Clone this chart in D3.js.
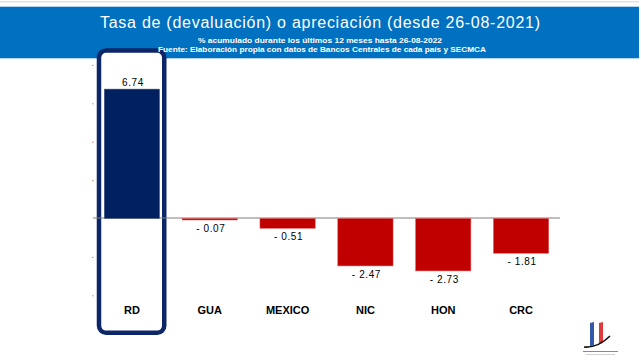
<!DOCTYPE html>
<html>
<head>
<meta charset="utf-8">
<script src="https://cdn.jsdelivr.net/npm/d3@7"></script>
<style>
  html, body { margin: 0; padding: 0; background: #fff; }
  svg { display: block; font-family: "Liberation Sans", Arial, sans-serif; }
</style>
</head>
<body>
<svg id="chart" width="641" height="360"></svg>
<script>
const categories = ["RD", "GUA", "MEXICO", "NIC", "HON", "CRC"];
const values = [6.74, -0.07, -0.51, -2.47, -2.73, -1.81];
const yTicks = [-4, -2, 0, 2, 4, 6, 8];
const highlighted = "RD";
const titleText = "Tasa de (devaluación) o apreciación (desde 26-08-2021)";
const subtitle1 = "% acumulado durante los últimos 12 meses hasta 26-08-2022";
const subtitle2 = "Fuente: Elaboración propia con datos de Bancos Centrales de cada país y SECMCA";

const svg = d3.select("#chart");

// top decorations
svg.append("rect").attr("x", 0).attr("y", 1).attr("width", 639).attr("height", 1.5).attr("fill", "#e2e2e2");
svg.append("rect").attr("x", 0).attr("y", 6.7).attr("width", 639).attr("height", 51.6).attr("fill", "#0070C0");

const x = d3.scaleBand().domain(categories).range([93, 560]).paddingInner(0.29).paddingOuter(0.145);
const y = d3.scaleLinear().domain([-4, 8]).range([295.3, 64.9]);

// highlight rounded rect
const hx0 = x(highlighted) - 5.3, hx1 = x(highlighted) + x.bandwidth() + 4.7;
svg.append("rect")
  .attr("x", hx0).attr("y", 50.5)
  .attr("width", hx1 - hx0).attr("height", 332.8 - 50.5)
  .attr("rx", 7).attr("ry", 7)
  .attr("fill", "#fff")
  .attr("stroke", "#0c2668").attr("stroke-width", 4.5);

// titles
svg.append("text").attr("x", 320).attr("y", 28.3).attr("text-anchor", "middle")
  .attr("fill", "#fff").attr("font-size", 16).attr("textLength", 440).attr("lengthAdjust", "spacing")
  .text(titleText);
svg.append("text").attr("x", 320).attr("y", 42.8).attr("text-anchor", "middle")
  .attr("fill", "#fff").attr("font-size", 7.6).attr("font-weight", "bold")
  .attr("textLength", 244).attr("lengthAdjust", "spacingAndGlyphs")
  .text(subtitle1);
svg.append("text").attr("x", 322).attr("y", 52).attr("text-anchor", "middle")
  .attr("fill", "#fff").attr("font-size", 7.6).attr("font-weight", "bold")
  .attr("textLength", 328).attr("lengthAdjust", "spacingAndGlyphs")
  .text(subtitle2);

// y ticks (tiny marks, no labels)
const yAxis = d3.axisLeft(y).tickValues(yTicks).tickSize(1.5).tickFormat("");
const gy = svg.append("g").attr("transform", "translate(93.5,0)").call(yAxis);
gy.select(".domain").remove();
gy.selectAll(".tick line").attr("stroke", "#d08a70").attr("stroke-width", 1);
gy.selectAll(".tick").filter(d => d === 0).remove();

// zero line
svg.append("line").attr("x1", 93).attr("x2", 560).attr("y1", y(0) - 0.5).attr("y2", y(0) - 0.5)
  .attr("stroke", "#7f7f7f").attr("stroke-width", 1);

// bars
svg.append("g").selectAll("rect").data(categories).join("rect")
  .attr("x", d => x(d))
  .attr("width", x.bandwidth())
  .attr("y", (d, i) => values[i] >= 0 ? y(values[i]) : y(0))
  .attr("height", (d, i) => Math.max(1.5, Math.abs(y(values[i]) - y(0))))
  .attr("fill", (d, i) => values[i] >= 0 ? "#002060" : "#C00000")
  .attr("stroke", (d, i) => values[i] >= 0 ? "#4a5a86" : "#e05a5a")
  .attr("stroke-width", 0.5);

// value labels
const fmt = v => (v < 0 ? "- " : "") + Math.abs(v).toFixed(2);
svg.append("g").selectAll("text").data(categories).join("text")
  .attr("x", d => x(d) + x.bandwidth() / 2 + 1)
  .attr("y", (d, i) => values[i] >= 0 ? y(values[i]) - 3.5 : y(values[i]) + 12)
  .attr("text-anchor", "middle")
  .attr("font-size", 10)
  .attr("letter-spacing", 0.6)
  .attr("fill", "#000")
  .text((d, i) => fmt(values[i]));

// category labels
svg.append("g").selectAll("text").data(categories).join("text")
  .attr("x", d => x(d) + x.bandwidth() / 2)
  .attr("y", 313.5)
  .attr("text-anchor", "middle")
  .attr("font-size", 11).attr("font-weight", "bold")
  .attr("fill", "#000")
  .text(d => d);

// logo (decoration)
const logo = svg.append("g").attr("transform", "translate(570,310)");
logo.append("path").attr("d", "M20,13 L24,12 L24,35 L20,37 Z").attr("fill", "#3557a8");
logo.append("path").attr("d", "M29,13 L33,12 L33,33 L29,34 Z").attr("fill", "#e03a3a");
logo.append("path").attr("d", "M14,37 Q28,38 40,26").attr("fill", "none").attr("stroke", "#111").attr("stroke-width", 1.6);
logo.append("rect").attr("x", 13).attr("y", 41).attr("width", 35).attr("height", 1).attr("fill", "#8a8a8a");
logo.append("rect").attr("x", 16).attr("y", 44).attr("width", 29).attr("height", 0.6).attr("fill", "#b5b5b5");
</script>
</body>
</html>
